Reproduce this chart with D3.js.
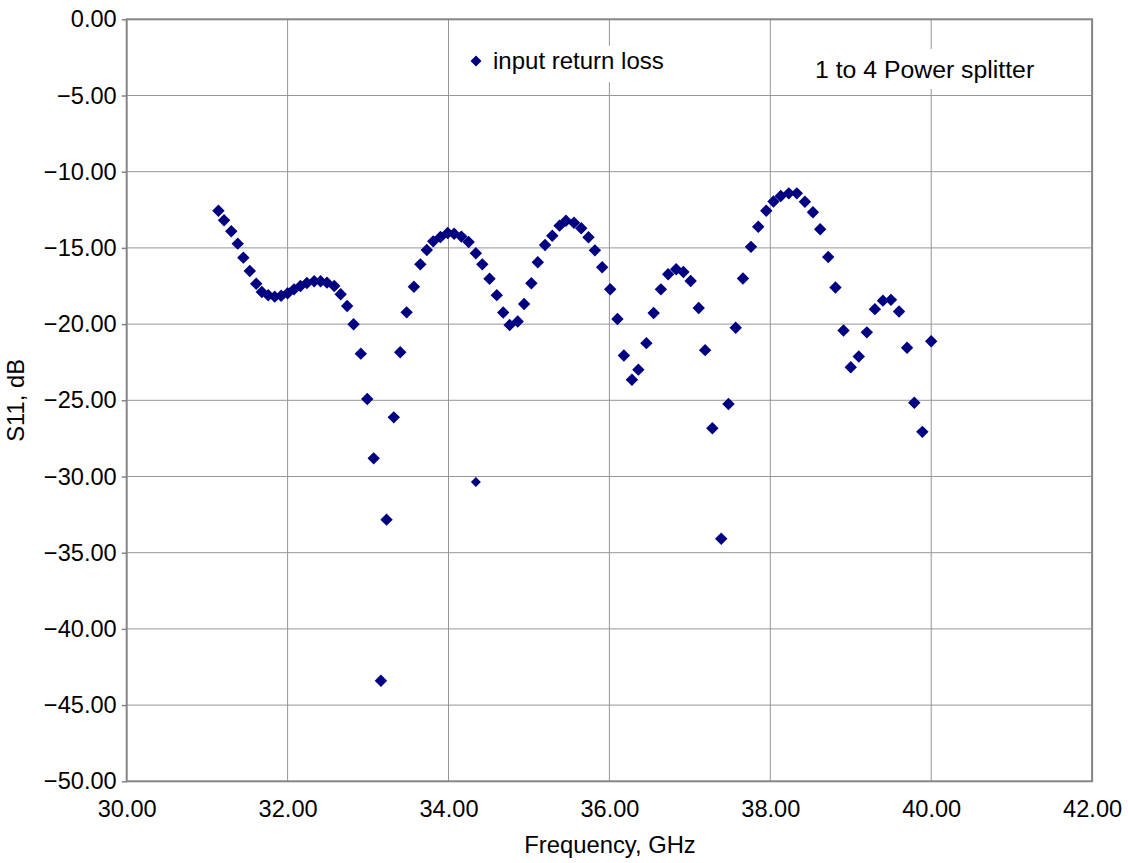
<!DOCTYPE html>
<html>
<head>
<meta charset="utf-8">
<script src="https://cdn.jsdelivr.net/npm/d3@7"></script>
<style>
  body { margin: 0; background: #ffffff; }
  text { font-family: "Liberation Sans", Arial, Helvetica, sans-serif; fill: #000; }
</style>
</head>
<body>
<svg id="chart" width="1128" height="863"></svg>
<script>
// Measured input return loss of the 1-to-4 power splitter
const freqGHz = [
  31.14, 31.21, 31.30, 31.38, 31.45, 31.53, 31.61, 31.68, 31.76, 31.84,
  31.92, 32.00, 32.08, 32.16, 32.24, 32.33, 32.41, 32.49, 32.58, 32.66,
  32.74, 32.82, 32.91, 32.99, 33.07, 33.16, 33.23, 33.32, 33.40, 33.48,
  33.57, 33.65, 33.73, 33.81, 33.90, 33.99, 34.07, 34.16, 34.25, 34.34,
  34.42, 34.51, 34.60, 34.68, 34.76, 34.86, 34.94, 35.03, 35.11, 35.20,
  35.29, 35.38, 35.46, 35.56, 35.65, 35.74, 35.82, 35.91, 36.01, 36.10,
  36.18, 36.28, 36.36, 36.46, 36.55, 36.64, 36.73, 36.83, 36.92, 37.01,
  37.11, 37.19, 37.28, 37.39, 37.48, 37.57, 37.66, 37.76, 37.85, 37.95,
  38.04, 38.13, 38.23, 38.33, 38.43, 38.53, 38.62, 38.72, 38.81, 38.91,
  39.00, 39.10, 39.20, 39.30, 39.40, 39.50, 39.60, 39.70, 39.79, 39.89,
  40.00
];
const s11dB = [
  -12.56, -13.19, -13.91, -14.72, -15.64, -16.52, -17.35, -17.89, -18.11, -18.20,
  -18.14, -17.98, -17.72, -17.50, -17.30, -17.19, -17.19, -17.28, -17.50, -18.04,
  -18.81, -20.01, -21.94, -24.91, -28.81, -43.40, -32.83, -26.12, -21.85, -19.23,
  -17.55, -16.08, -15.14, -14.57, -14.28, -14.02, -14.07, -14.26, -14.61, -15.35,
  -16.08, -17.02, -18.10, -19.24, -20.06, -19.83, -18.68, -17.32, -15.94, -14.81,
  -14.20, -13.54, -13.22, -13.35, -13.71, -14.30, -15.16, -16.27, -17.71, -19.67,
  -22.06, -23.65, -22.99, -21.25, -19.27, -17.72, -16.73, -16.40, -16.58, -17.17,
  -18.94, -21.71, -26.83, -34.08, -25.24, -20.24, -17.01, -14.93, -13.61, -12.56,
  -11.96, -11.59, -11.42, -11.42, -11.97, -12.66, -13.78, -15.60, -17.60, -20.42,
  -22.83, -22.13, -20.54, -19.02, -18.46, -18.41, -19.17, -21.55, -25.16, -27.07,
  -21.13
];
// single reading plotted with a smaller marker
const extraFreqGHz = [34.34];
const extraS11dB = [-30.36];

const xTicks = [30, 32, 34, 36, 38, 40, 42];
const yTicks = [0, -5, -10, -15, -20, -25, -30, -35, -40, -45, -50];
const seriesLabel = "input return loss";
const noteLabel = "1 to 4 Power splitter";
const xTitle = "Frequency, GHz";
const yTitle = "S11, dB";

const plot = { left: 126.7, right: 1092.1, top: 19.3, bottom: 781.3 };
const navy = "#000080";
const tickPx = 23.6;
const titlePx = 23.8;

const svg = d3.select("#chart");
svg.append("rect").attr("width", 1128).attr("height", 863).attr("fill", "#fff");

const x = d3.scaleLinear().domain([30, 42]).range([plot.left, plot.right]);
const y = d3.scaleLinear().domain([-50, 0]).range([plot.bottom, plot.top]);
const fmt = d3.format(".2f");

// grid
const grid = svg.append("g").attr("stroke", "#969696").attr("stroke-width", 1);
grid.selectAll("line.v").data(xTicks.slice(1, -1)).join("line")
  .attr("x1", d => x(d)).attr("x2", d => x(d))
  .attr("y1", plot.top).attr("y2", plot.bottom);
grid.selectAll("line.h").data(yTicks.slice(1, -1)).join("line")
  .attr("x1", plot.left).attr("x2", plot.right)
  .attr("y1", d => y(d)).attr("y2", d => y(d));

// text boxes with white backgrounds over the grid
svg.append("rect").attr("x", 462).attr("y", 46).attr("width", 216).attr("height", 36).attr("fill", "#fff");
svg.append("rect").attr("x", 805).attr("y", 49).attr("width", 245).attr("height", 40).attr("fill", "#fff");

// plot frame
svg.append("rect")
  .attr("x", plot.left).attr("y", plot.top)
  .attr("width", plot.right - plot.left).attr("height", plot.bottom - plot.top)
  .attr("fill", "none").attr("stroke", "#858585").attr("stroke-width", 2);

// axes
const yAxis = svg.append("g").attr("transform", `translate(${plot.left},0)`)
  .call(d3.axisLeft(y).tickValues(yTicks).tickFormat(fmt).tickSize(5).tickPadding(5));
const xAxis = svg.append("g").attr("transform", `translate(0,${plot.bottom})`)
  .call(d3.axisBottom(x).tickValues(xTicks).tickFormat(fmt).tickSize(0).tickPadding(19));
[yAxis, xAxis].forEach(g => {
  g.select(".domain").remove();
  g.selectAll(".tick line").attr("stroke", "#858585").attr("stroke-width", 1.5);
  g.selectAll("text").attr("font-size", tickPx)
    .attr("font-family", '"Liberation Sans", Arial, sans-serif').attr("fill", "#000");
});

// axis titles
svg.append("text").attr("x", 610).attr("y", 853)
  .attr("text-anchor", "middle").attr("font-size", titlePx).text(xTitle);
svg.append("text").attr("transform", `translate(24,${(plot.top + plot.bottom) / 2}) rotate(-90)`)
  .attr("text-anchor", "middle").attr("font-size", titlePx).text(yTitle);

// markers
const diamond = r => `M0,${-r}L${r},0L0,${r}L${-r},0Z`;
const pts = freqGHz.map((f, i) => ({ f, v: s11dB[i] }));
svg.append("g").selectAll("path").data(pts).join("path")
  .attr("transform", d => `translate(${x(d.f)},${y(d.v)})`)
  .attr("d", diamond(6.2)).attr("fill", navy);
svg.append("g").selectAll("path").data(extraFreqGHz.map((f, i) => ({ f, v: extraS11dB[i] }))).join("path")
  .attr("transform", d => `translate(${x(d.f)},${y(d.v)})`)
  .attr("d", diamond(5)).attr("fill", navy);

// legend and note
svg.append("path").attr("transform", "translate(476,61)").attr("d", diamond(5.5)).attr("fill", navy);
svg.append("text").attr("x", 493).attr("y", 69).attr("font-size", 24).text(seriesLabel);
svg.append("text").attr("x", 815).attr("y", 78).attr("font-size", 24.8).text(noteLabel);
</script>
</body>
</html>
